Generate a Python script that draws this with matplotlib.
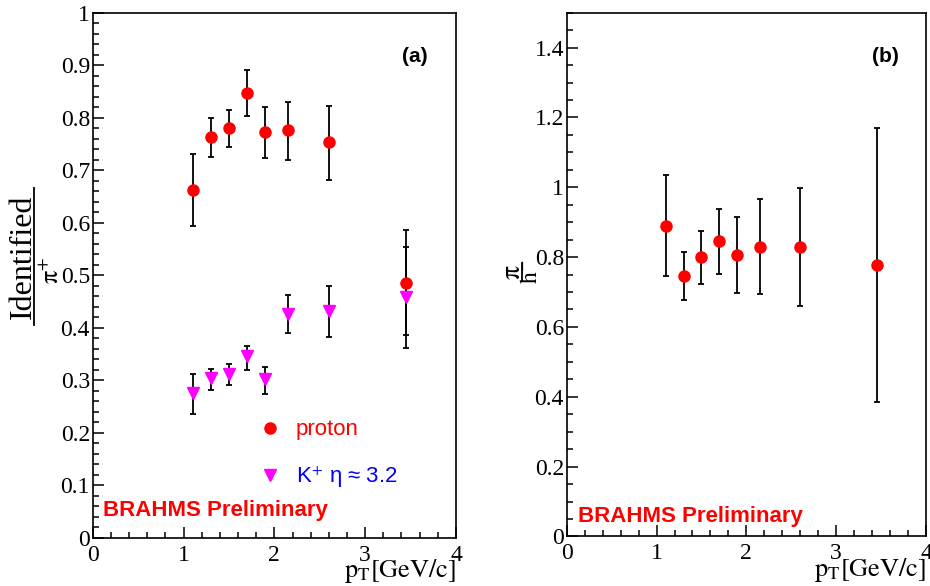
import matplotlib
matplotlib.use("Agg")
import matplotlib.pyplot as plt
from matplotlib.lines import Line2D
from matplotlib.ticker import MultipleLocator, FuncFormatter
import numpy as np

plt.rcParams['font.family'] = ['Liberation Serif', 'DejaVu Serif']
plt.rcParams['mathtext.fontset'] = 'stix'

# ── 데이터 ─────────────────────────────────────────
pt = [1.1, 1.3, 1.5, 1.7, 1.9, 2.15, 2.6, 3.45]

# (a) proton / pi+
proton = [0.662, 0.763, 0.780, 0.848, 0.773, 0.776, 0.753, 0.486]
proton_lo = [0.594, 0.725, 0.744, 0.804, 0.724, 0.720, 0.682, 0.386]
proton_hi = [0.730, 0.800, 0.815, 0.891, 0.821, 0.830, 0.823, 0.586]

# (a) K+ / pi+
kaon = [0.275, 0.304, 0.312, 0.346, 0.302, 0.427, 0.432, 0.459]
kaon_lo = [0.236, 0.281, 0.291, 0.319, 0.274, 0.389, 0.383, 0.362]
kaon_hi = [0.312, 0.322, 0.330, 0.366, 0.325, 0.462, 0.479, 0.554]

# (b) pi- / h-
pi_h = [0.890, 0.747, 0.801, 0.847, 0.806, 0.830, 0.830, 0.778]
pi_h_lo = [0.747, 0.678, 0.724, 0.753, 0.697, 0.693, 0.661, 0.386]
pi_h_hi = [1.035, 0.815, 0.876, 0.938, 0.915, 0.965, 0.999, 1.170]


def yerr(v, lo, hi):
    v = np.array(v)
    return [v - np.array(lo), np.array(hi) - v]


def style_axis(ax, ymax, ymajor, yminor):
    ax.set_xlim(0, 4)
    ax.set_ylim(0, ymax)
    ax.xaxis.set_major_locator(MultipleLocator(1))
    ax.xaxis.set_minor_locator(MultipleLocator(0.2))
    ax.yaxis.set_major_locator(MultipleLocator(ymajor))
    ax.yaxis.set_minor_locator(MultipleLocator(yminor))
    fmt = FuncFormatter(lambda v, p: "%g" % round(v, 3))
    ax.xaxis.set_major_formatter(fmt)
    ax.yaxis.set_major_formatter(fmt)
    ax.tick_params(which="both", direction="in", top=False, right=False,
                   labelsize=17, width=1.1)
    ax.tick_params(which="major", length=8)
    ax.tick_params(which="minor", length=4)
    ax.tick_params(axis="x", pad=5)
    ax.tick_params(axis="y", pad=2)
    for s in ax.spines.values():
        s.set_linewidth(1.2)
    ax.set_xlabel(r"$\mathrm{p_{T}[GeV/c]}$", fontsize=19, loc="right",
                  labelpad=-6)


def frac_label(ax, top, bottom, x_top, x_bar, x_bot, y_mid, y_bot,
               half, size_top, size_bot):
    # 세로 분수형 y축 라벨 (분자 / 막대 / 분모)
    ax.text(x_top, y_mid, top, transform=ax.transAxes, rotation=90,
            ha="center", va="center", fontsize=size_top)
    ax.text(x_bot, y_bot, bottom, transform=ax.transAxes, rotation=90,
            ha="center", va="center", fontsize=size_bot)
    fig.add_artist(Line2D([x_bar, x_bar], [y_mid - half, y_mid + half],
                          transform=ax.transAxes, color="black", lw=1.3))


fig = plt.figure(figsize=(9.3, 5.86), dpi=100)
ax1 = fig.add_axes([0.0997, 0.0824, 0.3906, 0.8959])
ax2 = fig.add_axes([0.6094, 0.0845, 0.3863, 0.8939])

err_kw = dict(ecolor="black", elinewidth=1.3, capsize=2, capthick=1.3,
              linestyle="none")

# ── (a) ──
ax1.errorbar(pt, proton, yerr=yerr(proton, proton_lo, proton_hi),
             fmt="o", color="red", markersize=8, label="proton", **err_kw)
ax1.errorbar(pt, kaon, yerr=yerr(kaon, kaon_lo, kaon_hi),
             fmt="v", color="magenta", markersize=8,
             label="K$^{+}$ \u03b7 \u2248 3.2", **err_kw)
style_axis(ax1, 1.0, 0.1, 0.02)
frac_label(ax1, "Identified", r"$\mathrm{\pi}^{+}$",
           x_top=-0.19, x_bar=-0.161, x_bot=-0.111,
           y_mid=0.536, y_bot=0.51, half=0.13, size_top=23, size_bot=19)
ax1.text(0.887, 0.916, "(a)", transform=ax1.transAxes, ha="center",
         va="center", fontsize=15, fontweight="bold",
         family="Liberation Sans")
ax1.text(0.028, 0.051, "BRAHMS Preliminary", transform=ax1.transAxes,
         ha="left", va="center", fontsize=16, fontweight="bold",
         color="red", family="Liberation Sans")

h, l = ax1.get_legend_handles_labels()
h = [hh[0] for hh in h]
leg = ax1.legend(h, l, loc="center left", bbox_to_anchor=(0.458, 0.158),
                 frameon=False, borderpad=0, borderaxespad=0,
                 handlelength=1.0, handletextpad=0.64, labelspacing=1.1,
                 labelcolor=["red", "blue"],
                 prop={"family": ["Liberation Sans", "DejaVu Sans"],
                       "size": 16})

# ── (b) ──
ax2.errorbar(pt, pi_h, yerr=yerr(pi_h, pi_h_lo, pi_h_hi),
             fmt="o", color="red", markersize=8, **err_kw)
style_axis(ax2, 1.5, 0.2, 0.05)
frac_label(ax2, r"$\mathrm{\pi}$", r"$\mathrm{h}^{-}$",
           x_top=-0.148, x_bar=-0.124, x_bot=-0.097,
           y_mid=0.505, y_bot=0.505, half=0.018, size_top=20, size_bot=17)
ax2.text(0.886, 0.916, "(b)", transform=ax2.transAxes, ha="center",
         va="center", fontsize=15, fontweight="bold",
         family="Liberation Sans")
ax2.text(0.03, 0.039, "BRAHMS Preliminary", transform=ax2.transAxes,
         ha="left", va="center", fontsize=16, fontweight="bold",
         color="red", family="Liberation Sans")

fig.savefig("out.png", dpi=100)
